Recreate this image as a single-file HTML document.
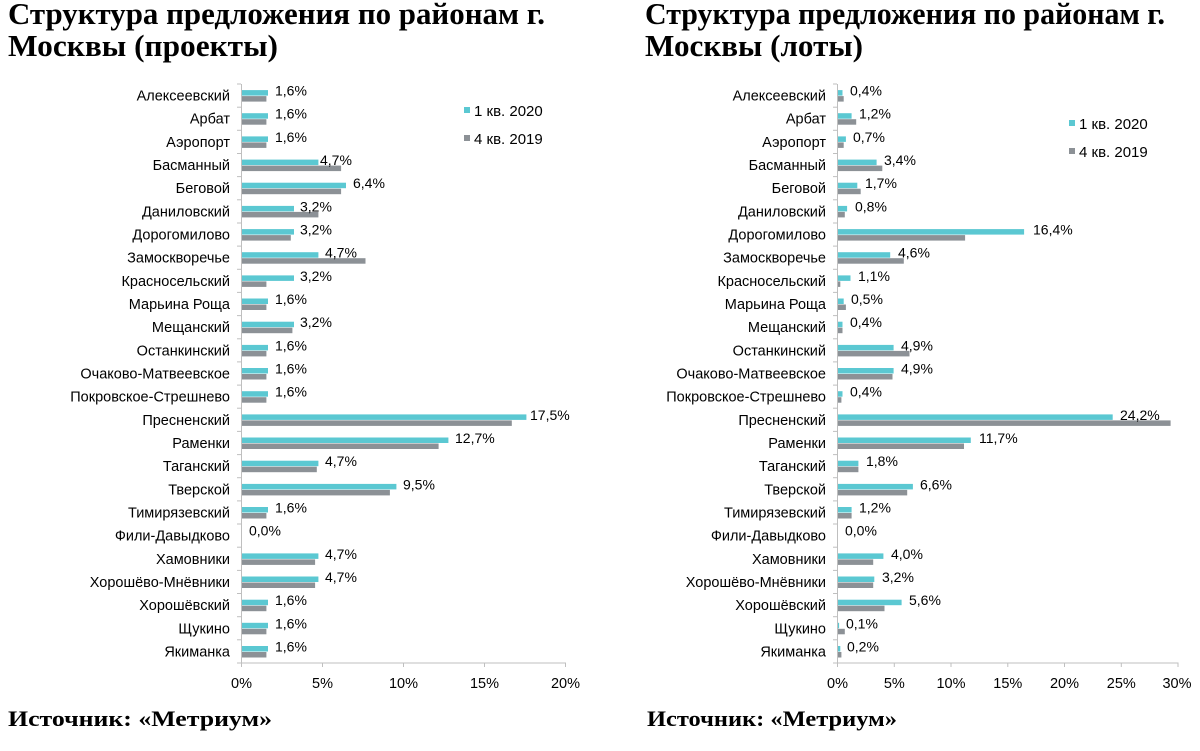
<!DOCTYPE html>
<html><head><meta charset="utf-8"><style>
html,body{margin:0;padding:0;background:#fff;}
svg{display:block;}
.t{font-family:"Liberation Serif",serif;font-weight:bold;font-size:31px;fill:#000;}
.s{font-family:"Liberation Serif",serif;font-weight:bold;font-size:22px;fill:#000;}
.c{font-family:"Liberation Sans",sans-serif;font-size:14.5px;fill:#000;text-anchor:end;}
.v{font-family:"Liberation Sans",sans-serif;font-size:14px;fill:#000;}
.x{font-family:"Liberation Sans",sans-serif;font-size:14.5px;fill:#000;text-anchor:middle;}
.l{font-family:"Liberation Sans",sans-serif;font-size:15px;fill:#000;}
.a{fill:#5bc8d2;}.b{fill:#8c9196;}
</style></head><body>
<svg width="1200" height="751" viewBox="0 0 1200 751" xmlns="http://www.w3.org/2000/svg">
<text class="t" x="8" y="24" textLength="537" lengthAdjust="spacingAndGlyphs">Структура предложения по районам г.</text>
<text class="t" x="8" y="56" textLength="270" lengthAdjust="spacingAndGlyphs">Москвы (проекты)</text>
<text class="t" x="645" y="24" textLength="520" lengthAdjust="spacingAndGlyphs">Структура предложения по районам г.</text>
<text class="t" x="645" y="56" textLength="218" lengthAdjust="spacingAndGlyphs">Москвы (лоты)</text>
<text class="s" x="8" y="726" textLength="264" lengthAdjust="spacingAndGlyphs">Источник: «Метриум»</text>
<text class="s" x="647" y="726" textLength="250" lengthAdjust="spacingAndGlyphs">Источник: «Метриум»</text>

<!-- LEFT CHART -->
<g stroke="#bfbfbf" stroke-width="1">
<line x1="241.5" y1="84" x2="241.5" y2="663"/>
<line x1="241.5" y1="663" x2="566" y2="663"/>
<line x1="241.5" y1="663" x2="241.5" y2="667"/><line x1="322.5" y1="663" x2="322.5" y2="667"/><line x1="403.5" y1="663" x2="403.5" y2="667"/><line x1="484.5" y1="663" x2="484.5" y2="667"/><line x1="565.5" y1="663" x2="565.5" y2="667"/>
<line x1="237" y1="84" x2="241" y2="84"/><line x1="237" y1="107.2" x2="241" y2="107.2"/><line x1="237" y1="130.3" x2="241" y2="130.3"/><line x1="237" y1="153.5" x2="241" y2="153.5"/><line x1="237" y1="176.6" x2="241" y2="176.6"/><line x1="237" y1="199.8" x2="241" y2="199.8"/><line x1="237" y1="223" x2="241" y2="223"/><line x1="237" y1="246.1" x2="241" y2="246.1"/><line x1="237" y1="269.3" x2="241" y2="269.3"/><line x1="237" y1="292.4" x2="241" y2="292.4"/><line x1="237" y1="315.6" x2="241" y2="315.6"/><line x1="237" y1="338.8" x2="241" y2="338.8"/><line x1="237" y1="361.9" x2="241" y2="361.9"/><line x1="237" y1="385.1" x2="241" y2="385.1"/><line x1="237" y1="408.2" x2="241" y2="408.2"/><line x1="237" y1="431.4" x2="241" y2="431.4"/><line x1="237" y1="454.6" x2="241" y2="454.6"/><line x1="237" y1="477.7" x2="241" y2="477.7"/><line x1="237" y1="500.9" x2="241" y2="500.9"/><line x1="237" y1="524" x2="241" y2="524"/><line x1="237" y1="547.2" x2="241" y2="547.2"/><line x1="237" y1="570.4" x2="241" y2="570.4"/><line x1="237" y1="593.5" x2="241" y2="593.5"/><line x1="237" y1="616.7" x2="241" y2="616.7"/><line x1="237" y1="639.8" x2="241" y2="639.8"/><line x1="237" y1="663" x2="241" y2="663"/>
</g>
<text class="x" x="241.5" y="688">0%</text><text class="x" x="322.5" y="688">5%</text><text class="x" x="403.5" y="688">10%</text><text class="x" x="484.5" y="688">15%</text><text class="x" x="565.5" y="688">20%</text>
<rect class="a" x="464" y="107" width="6" height="6"/><text class="l" x="474" y="116">1 кв. 2020</text>
<rect class="b" x="464" y="135" width="6" height="6"/><text class="l" x="474" y="144">4 кв. 2019</text>

<g transform="translate(0,95.6)"><text class="c" x="230" y="5">Алексеевский</text><rect class="a" x="242" y="-5.5" width="26" height="5.5"/><rect class="b" x="242" y="0.5" width="24.4" height="5.5"/><text class="v" x="275" y="0">1,6%</text></g>
<g transform="translate(0,118.7)"><text class="c" x="230" y="5">Арбат</text><rect class="a" x="242" y="-5.5" width="26" height="5.5"/><rect class="b" x="242" y="0.5" width="24.4" height="5.5"/><text class="v" x="275" y="0">1,6%</text></g>
<g transform="translate(0,141.9)"><text class="c" x="230" y="5">Аэропорт</text><rect class="a" x="242" y="-5.5" width="26" height="5.5"/><rect class="b" x="242" y="0.5" width="24.4" height="5.5"/><text class="v" x="275" y="0">1,6%</text></g>
<g transform="translate(0,165.1)"><text class="c" x="230" y="5">Басманный</text><rect class="a" x="242" y="-5.5" width="76.4" height="5.5"/><rect class="b" x="242" y="0.5" width="99.1" height="5.5"/><text class="v" x="320" y="0">4,7%</text></g>
<g transform="translate(0,188.2)"><text class="c" x="230" y="5">Беговой</text><rect class="a" x="242" y="-5.5" width="104" height="5.5"/><rect class="b" x="242" y="0.5" width="99.1" height="5.5"/><text class="v" x="353" y="0">6,4%</text></g>
<g transform="translate(0,211.4)"><text class="c" x="230" y="5">Даниловский</text><rect class="a" x="242" y="-5.5" width="52" height="5.5"/><rect class="b" x="242" y="0.5" width="76.4" height="5.5"/><text class="v" x="300" y="0">3,2%</text></g>
<g transform="translate(0,234.6)"><text class="c" x="230" y="5">Дорогомилово</text><rect class="a" x="242" y="-5.5" width="52" height="5.5"/><rect class="b" x="242" y="0.5" width="48.8" height="5.5"/><text class="v" x="300" y="0">3,2%</text></g>
<g transform="translate(0,257.7)"><text class="c" x="230" y="5">Замоскворечье</text><rect class="a" x="242" y="-5.5" width="76.4" height="5.5"/><rect class="b" x="242" y="0.5" width="123.5" height="5.5"/><text class="v" x="325" y="0">4,7%</text></g>
<g transform="translate(0,280.9)"><text class="c" x="230" y="5">Красносельский</text><rect class="a" x="242" y="-5.5" width="52" height="5.5"/><rect class="b" x="242" y="0.5" width="24.4" height="5.5"/><text class="v" x="300" y="0">3,2%</text></g>
<g transform="translate(0,304)"><text class="c" x="230" y="5">Марьина Роща</text><rect class="a" x="242" y="-5.5" width="26" height="5.5"/><rect class="b" x="242" y="0.5" width="24.4" height="5.5"/><text class="v" x="275" y="0">1,6%</text></g>
<g transform="translate(0,327.2)"><text class="c" x="230" y="5">Мещанский</text><rect class="a" x="242" y="-5.5" width="52" height="5.5"/><rect class="b" x="242" y="0.5" width="50.4" height="5.5"/><text class="v" x="300" y="0">3,2%</text></g>
<g transform="translate(0,350.4)"><text class="c" x="230" y="5">Останкинский</text><rect class="a" x="242" y="-5.5" width="26" height="5.5"/><rect class="b" x="242" y="0.5" width="24.4" height="5.5"/><text class="v" x="275" y="0">1,6%</text></g>
<g transform="translate(0,373.5)"><text class="c" x="230" y="5">Очаково-Матвеевское</text><rect class="a" x="242" y="-5.5" width="26" height="5.5"/><rect class="b" x="242" y="0.5" width="24.4" height="5.5"/><text class="v" x="275" y="0">1,6%</text></g>
<g transform="translate(0,396.7)"><text class="c" x="230" y="5">Покровское-Стрешнево</text><rect class="a" x="242" y="-5.5" width="26" height="5.5"/><rect class="b" x="242" y="0.5" width="24.4" height="5.5"/><text class="v" x="275" y="0">1,6%</text></g>
<g transform="translate(0,419.9)"><text class="c" x="230" y="5">Пресненский</text><rect class="a" x="242" y="-5.5" width="284.4" height="5.5"/><rect class="b" x="242" y="0.5" width="269.8" height="5.5"/><text class="v" x="530" y="0">17,5%</text></g>
<g transform="translate(0,443)"><text class="c" x="230" y="5">Раменки</text><rect class="a" x="242" y="-5.5" width="206.4" height="5.5"/><rect class="b" x="242" y="0.5" width="196.6" height="5.5"/><text class="v" x="455" y="0">12,7%</text></g>
<g transform="translate(0,466.2)"><text class="c" x="230" y="5">Таганский</text><rect class="a" x="242" y="-5.5" width="76.4" height="5.5"/><rect class="b" x="242" y="0.5" width="74.8" height="5.5"/><text class="v" x="325" y="0">4,7%</text></g>
<g transform="translate(0,489.4)"><text class="c" x="230" y="5">Тверской</text><rect class="a" x="242" y="-5.5" width="154.4" height="5.5"/><rect class="b" x="242" y="0.5" width="147.9" height="5.5"/><text class="v" x="403" y="0">9,5%</text></g>
<g transform="translate(0,512.5)"><text class="c" x="230" y="5">Тимирязевский</text><rect class="a" x="242" y="-5.5" width="26" height="5.5"/><rect class="b" x="242" y="0.5" width="24.4" height="5.5"/><text class="v" x="275" y="0">1,6%</text></g>
<g transform="translate(0,535.7)"><text class="c" x="230" y="5">Фили-Давыдково</text><text class="v" x="249" y="0">0,0%</text></g>
<g transform="translate(0,558.9)"><text class="c" x="230" y="5">Хамовники</text><rect class="a" x="242" y="-5.5" width="76.4" height="5.5"/><rect class="b" x="242" y="0.5" width="73.1" height="5.5"/><text class="v" x="325" y="0">4,7%</text></g>
<g transform="translate(0,582)"><text class="c" x="230" y="5">Хорошёво-Мнёвники</text><rect class="a" x="242" y="-5.5" width="76.4" height="5.5"/><rect class="b" x="242" y="0.5" width="73.1" height="5.5"/><text class="v" x="325" y="0">4,7%</text></g>
<g transform="translate(0,605.2)"><text class="c" x="230" y="5">Хорошёвский</text><rect class="a" x="242" y="-5.5" width="26" height="5.5"/><rect class="b" x="242" y="0.5" width="24.4" height="5.5"/><text class="v" x="275" y="0">1,6%</text></g>
<g transform="translate(0,628.3)"><text class="c" x="230" y="5">Щукино</text><rect class="a" x="242" y="-5.5" width="26" height="5.5"/><rect class="b" x="242" y="0.5" width="24.4" height="5.5"/><text class="v" x="275" y="0">1,6%</text></g>
<g transform="translate(0,651.5)"><text class="c" x="230" y="5">Якиманка</text><rect class="a" x="242" y="-5.5" width="26" height="5.5"/><rect class="b" x="242" y="0.5" width="24.4" height="5.5"/><text class="v" x="275" y="0">1,6%</text></g>

<!-- RIGHT CHART -->
<g stroke="#bfbfbf" stroke-width="1">
<line x1="837.5" y1="84" x2="837.5" y2="663"/>
<line x1="837.5" y1="663" x2="1178.5" y2="663"/>
<line x1="837.5" y1="663" x2="837.5" y2="667"/><line x1="894.3" y1="663" x2="894.3" y2="667"/><line x1="951" y1="663" x2="951" y2="667"/><line x1="1007.8" y1="663" x2="1007.8" y2="667"/><line x1="1064.5" y1="663" x2="1064.5" y2="667"/><line x1="1121.3" y1="663" x2="1121.3" y2="667"/><line x1="1178" y1="663" x2="1178" y2="667"/>
<line x1="833" y1="84" x2="837" y2="84"/><line x1="833" y1="107.2" x2="837" y2="107.2"/><line x1="833" y1="130.3" x2="837" y2="130.3"/><line x1="833" y1="153.5" x2="837" y2="153.5"/><line x1="833" y1="176.6" x2="837" y2="176.6"/><line x1="833" y1="199.8" x2="837" y2="199.8"/><line x1="833" y1="223" x2="837" y2="223"/><line x1="833" y1="246.1" x2="837" y2="246.1"/><line x1="833" y1="269.3" x2="837" y2="269.3"/><line x1="833" y1="292.4" x2="837" y2="292.4"/><line x1="833" y1="315.6" x2="837" y2="315.6"/><line x1="833" y1="338.8" x2="837" y2="338.8"/><line x1="833" y1="361.9" x2="837" y2="361.9"/><line x1="833" y1="385.1" x2="837" y2="385.1"/><line x1="833" y1="408.2" x2="837" y2="408.2"/><line x1="833" y1="431.4" x2="837" y2="431.4"/><line x1="833" y1="454.6" x2="837" y2="454.6"/><line x1="833" y1="477.7" x2="837" y2="477.7"/><line x1="833" y1="500.9" x2="837" y2="500.9"/><line x1="833" y1="524" x2="837" y2="524"/><line x1="833" y1="547.2" x2="837" y2="547.2"/><line x1="833" y1="570.4" x2="837" y2="570.4"/><line x1="833" y1="593.5" x2="837" y2="593.5"/><line x1="833" y1="616.7" x2="837" y2="616.7"/><line x1="833" y1="639.8" x2="837" y2="639.8"/><line x1="833" y1="663" x2="837" y2="663"/>
</g>
<text class="x" x="837.5" y="688">0%</text><text class="x" x="894.3" y="688">5%</text><text class="x" x="951" y="688">10%</text><text class="x" x="1007.8" y="688">15%</text><text class="x" x="1064.5" y="688">20%</text><text class="x" x="1121.3" y="688">25%</text><text class="x" x="1177" y="688">30%</text>
<rect class="a" x="1069" y="120" width="6" height="6"/><text class="l" x="1079" y="129">1 кв. 2020</text>
<rect class="b" x="1069" y="148" width="6" height="6"/><text class="l" x="1079" y="157">4 кв. 2019</text>

<g transform="translate(0,95.6)"><text class="c" x="826" y="5">Алексеевский</text><rect class="a" x="838" y="-5.5" width="4.5" height="5.5"/><rect class="b" x="838" y="0.5" width="5.7" height="5.5"/><text class="v" x="850" y="0">0,4%</text></g>
<g transform="translate(0,118.7)"><text class="c" x="826" y="5">Арбат</text><rect class="a" x="838" y="-5.5" width="13.6" height="5.5"/><rect class="b" x="838" y="0.5" width="18.2" height="5.5"/><text class="v" x="859" y="0">1,2%</text></g>
<g transform="translate(0,141.9)"><text class="c" x="826" y="5">Аэропорт</text><rect class="a" x="838" y="-5.5" width="7.9" height="5.5"/><rect class="b" x="838" y="0.5" width="5.7" height="5.5"/><text class="v" x="853" y="0">0,7%</text></g>
<g transform="translate(0,165.1)"><text class="c" x="826" y="5">Басманный</text><rect class="a" x="838" y="-5.5" width="38.6" height="5.5"/><rect class="b" x="838" y="0.5" width="44.3" height="5.5"/><text class="v" x="884" y="0">3,4%</text></g>
<g transform="translate(0,188.2)"><text class="c" x="826" y="5">Беговой</text><rect class="a" x="838" y="-5.5" width="19.3" height="5.5"/><rect class="b" x="838" y="0.5" width="22.7" height="5.5"/><text class="v" x="865" y="0">1,7%</text></g>
<g transform="translate(0,211.4)"><text class="c" x="826" y="5">Даниловский</text><rect class="a" x="838" y="-5.5" width="9.1" height="5.5"/><rect class="b" x="838" y="0.5" width="6.8" height="5.5"/><text class="v" x="855" y="0">0,8%</text></g>
<g transform="translate(0,234.6)"><text class="c" x="826" y="5">Дорогомилово</text><rect class="a" x="838" y="-5.5" width="186.1" height="5.5"/><rect class="b" x="838" y="0.5" width="127.1" height="5.5"/><text class="v" x="1033" y="0">16,4%</text></g>
<g transform="translate(0,257.7)"><text class="c" x="826" y="5">Замоскворечье</text><rect class="a" x="838" y="-5.5" width="52.2" height="5.5"/><rect class="b" x="838" y="0.5" width="65.8" height="5.5"/><text class="v" x="898" y="0">4,6%</text></g>
<g transform="translate(0,280.9)"><text class="c" x="826" y="5">Красносельский</text><rect class="a" x="838" y="-5.5" width="12.5" height="5.5"/><rect class="b" x="838" y="0.5" width="2.3" height="5.5"/><text class="v" x="858" y="0">1,1%</text></g>
<g transform="translate(0,304)"><text class="c" x="826" y="5">Марьина Роща</text><rect class="a" x="838" y="-5.5" width="5.7" height="5.5"/><rect class="b" x="838" y="0.5" width="7.9" height="5.5"/><text class="v" x="851" y="0">0,5%</text></g>
<g transform="translate(0,327.2)"><text class="c" x="826" y="5">Мещанский</text><rect class="a" x="838" y="-5.5" width="4.5" height="5.5"/><rect class="b" x="838" y="0.5" width="4.5" height="5.5"/><text class="v" x="850" y="0">0,4%</text></g>
<g transform="translate(0,350.4)"><text class="c" x="826" y="5">Останкинский</text><rect class="a" x="838" y="-5.5" width="55.6" height="5.5"/><rect class="b" x="838" y="0.5" width="71.5" height="5.5"/><text class="v" x="901" y="0">4,9%</text></g>
<g transform="translate(0,373.5)"><text class="c" x="826" y="5">Очаково-Матвеевское</text><rect class="a" x="838" y="-5.5" width="55.6" height="5.5"/><rect class="b" x="838" y="0.5" width="54.5" height="5.5"/><text class="v" x="901" y="0">4,9%</text></g>
<g transform="translate(0,396.7)"><text class="c" x="826" y="5">Покровское-Стрешнево</text><rect class="a" x="838" y="-5.5" width="4.5" height="5.5"/><rect class="b" x="838" y="0.5" width="3.4" height="5.5"/><text class="v" x="850" y="0">0,4%</text></g>
<g transform="translate(0,419.9)"><text class="c" x="826" y="5">Пресненский</text><rect class="a" x="838" y="-5.5" width="274.7" height="5.5"/><rect class="b" x="838" y="0.5" width="332.6" height="5.5"/><text class="v" x="1120" y="0">24,2%</text></g>
<g transform="translate(0,443)"><text class="c" x="826" y="5">Раменки</text><rect class="a" x="838" y="-5.5" width="132.8" height="5.5"/><rect class="b" x="838" y="0.5" width="126" height="5.5"/><text class="v" x="979" y="0">11,7%</text></g>
<g transform="translate(0,466.2)"><text class="c" x="826" y="5">Таганский</text><rect class="a" x="838" y="-5.5" width="20.4" height="5.5"/><rect class="b" x="838" y="0.5" width="20.4" height="5.5"/><text class="v" x="866" y="0">1,8%</text></g>
<g transform="translate(0,489.4)"><text class="c" x="826" y="5">Тверской</text><rect class="a" x="838" y="-5.5" width="74.9" height="5.5"/><rect class="b" x="838" y="0.5" width="69.2" height="5.5"/><text class="v" x="920" y="0">6,6%</text></g>
<g transform="translate(0,512.5)"><text class="c" x="826" y="5">Тимирязевский</text><rect class="a" x="838" y="-5.5" width="13.6" height="5.5"/><rect class="b" x="838" y="0.5" width="13.6" height="5.5"/><text class="v" x="859" y="0">1,2%</text></g>
<g transform="translate(0,535.7)"><text class="c" x="826" y="5">Фили-Давыдково</text><text class="v" x="845" y="0">0,0%</text></g>
<g transform="translate(0,558.9)"><text class="c" x="826" y="5">Хамовники</text><rect class="a" x="838" y="-5.5" width="45.4" height="5.5"/><rect class="b" x="838" y="0.5" width="35.2" height="5.5"/><text class="v" x="891" y="0">4,0%</text></g>
<g transform="translate(0,582)"><text class="c" x="826" y="5">Хорошёво-Мнёвники</text><rect class="a" x="838" y="-5.5" width="36.3" height="5.5"/><rect class="b" x="838" y="0.5" width="35.2" height="5.5"/><text class="v" x="882" y="0">3,2%</text></g>
<g transform="translate(0,605.2)"><text class="c" x="826" y="5">Хорошёвский</text><rect class="a" x="838" y="-5.5" width="63.6" height="5.5"/><rect class="b" x="838" y="0.5" width="46.5" height="5.5"/><text class="v" x="909" y="0">5,6%</text></g>
<g transform="translate(0,628.3)"><text class="c" x="826" y="5">Щукино</text><rect class="a" x="838" y="-5.5" width="1.1" height="5.5"/><rect class="b" x="838" y="0.5" width="6.8" height="5.5"/><text class="v" x="846" y="0">0,1%</text></g>
<g transform="translate(0,651.5)"><text class="c" x="826" y="5">Якиманка</text><rect class="a" x="838" y="-5.5" width="2.3" height="5.5"/><rect class="b" x="838" y="0.5" width="3.4" height="5.5"/><text class="v" x="847" y="0">0,2%</text></g>
</svg>
</body></html>
